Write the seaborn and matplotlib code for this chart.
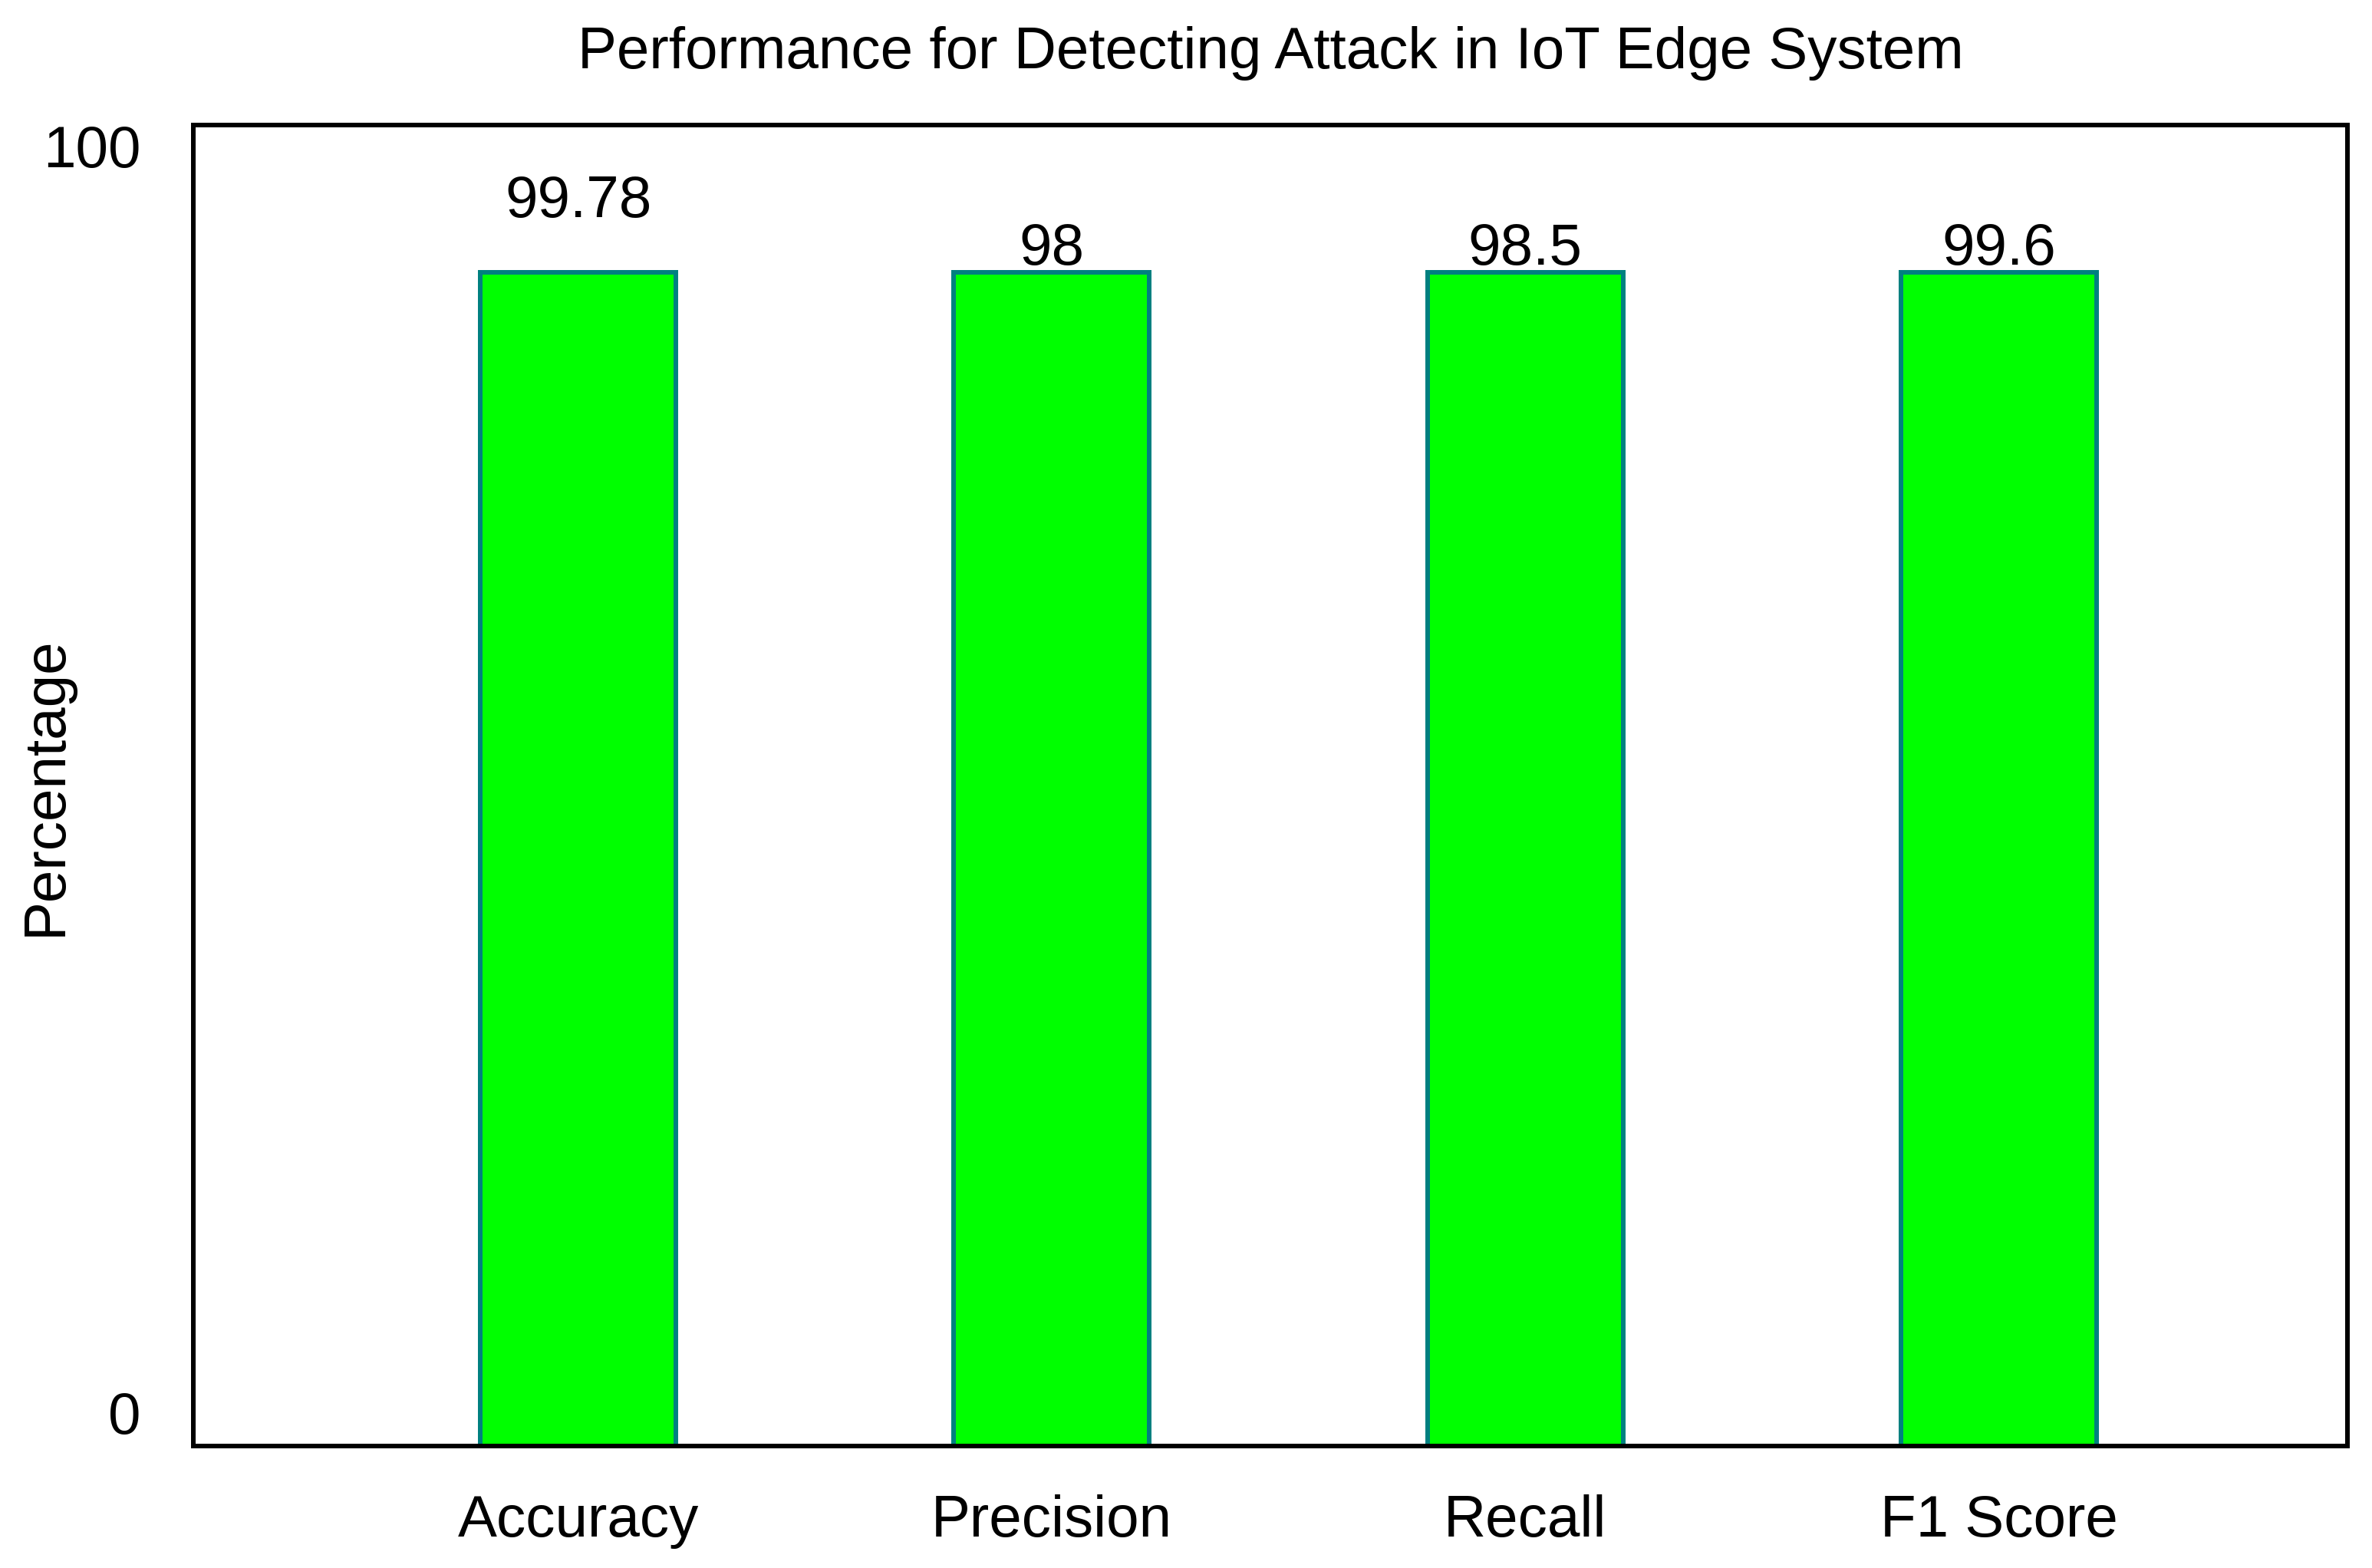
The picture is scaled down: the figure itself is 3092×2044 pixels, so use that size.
import matplotlib
matplotlib.use("Agg")
import matplotlib.pyplot as plt
import seaborn as sns
import pandas as pd

# ---- data ----
metrics = ["Accuracy", "Precision", "Recall", "F1 Score"]
bar_heights = [88.9, 88.9, 88.9, 88.9]          # drawn bar heights (all equal in the picture)
value_labels = ["99.78", "98", "98.5", "99.6"]   # annotated values
label_offsets_pt = [25.9, 3.6, 3.6, 3.6]         # label baseline offset above bar top (points)
y_ticks = [0, 100]
y_tick_labels = ["0", "100"]

title = "Performance for Detecting Attack in IoT Edge System"
ylabel = "Percentage"

sns.set_style("white")
plt.rcParams["font.family"] = ["Liberation Sans", "DejaVu Sans"]
FS = 27.5

df = pd.DataFrame({"metric": metrics, "value": bar_heights})

fig = plt.figure(figsize=(15.46, 10.22), dpi=200)
ax = fig.add_axes([0.0815, 0.07755, 0.9897 - 0.0815, 0.92001 - 0.07755])

sns.barplot(data=df, x="metric", y="value", ax=ax, color="#00ff00",
            saturation=1, edgecolor="#008080", linewidth=2.16, width=0.413)

ax.set_xlim(-0.8125, 3.7364)
ax.set_ylim(0, 100)

for patch, txt, off in zip(ax.patches, value_labels, label_offsets_pt):
    cx = patch.get_x() + patch.get_width() / 2
    top = patch.get_y() + patch.get_height()
    ax.annotate(txt, xy=(cx, top), xytext=(0, off), textcoords="offset points",
                ha="center", va="baseline", fontsize=FS, color="black")

ax.set_yticks(y_ticks)
ax.set_yticklabels(y_tick_labels)
ax.tick_params(axis="y", length=0, pad=24.5, labelsize=FS, colors="black")
ax.tick_params(axis="x", length=0, pad=22.5, labelsize=FS, colors="black")
for lab in ax.get_yticklabels():
    if lab.get_text() == "0":
        lab.set_verticalalignment("bottom")
    else:
        lab.set_verticalalignment("top")
for lab in ax.get_xticklabels():
    lab.set_verticalalignment("top")

ax.set_xlabel("")
ax.set_ylabel(ylabel, fontsize=FS, color="black")
ax.yaxis.set_label_coords(-0.0555, 0.5)
ax.set_title(title, fontsize=FS, pad=26.8, color="black")

for s in ax.spines.values():
    s.set_visible(True)
    s.set_color("black")
    s.set_linewidth(2.16)

fig.savefig("out.png", dpi=200, facecolor="white")
